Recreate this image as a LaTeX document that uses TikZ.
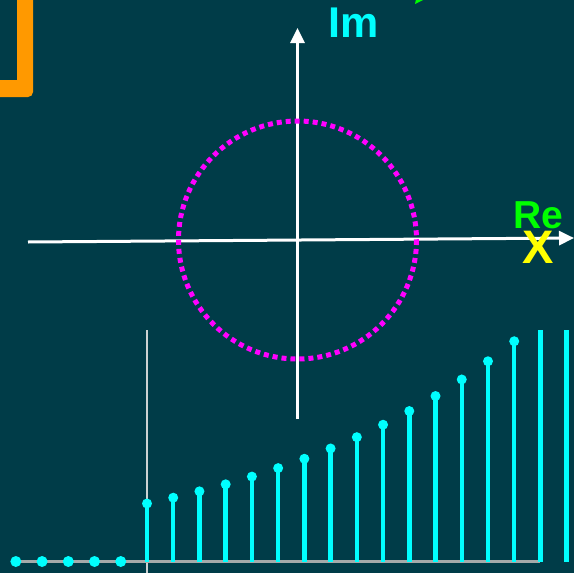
\documentclass[tikz,border=0pt]{standalone}
\usepackage{fontspec}
\setmainfont{Liberation Sans}
\usepackage{tikz}
\usetikzlibrary{arrows.meta, positioning, calc}
\definecolor{ZBack}{RGB}{0,60,72}
\definecolor{ZCyan}{RGB}{0,255,255}
\definecolor{ZMagenta}{RGB}{255,0,255}
\definecolor{ZGreen}{RGB}{0,255,0}
\definecolor{ZYellow}{RGB}{255,255,0}
\definecolor{ZOrange}{RGB}{255,153,0}
\definecolor{ZGray}{RGB}{165,170,170}
\definecolor{ZLight}{RGB}{205,210,210}

\begin{document}
\begin{tikzpicture}[x=1pt, y=-1pt,
          axis/.style={draw=white, line width=3pt,
                       -{Triangle[length=15pt, width=14pt]}},
          lbl/.style={font=\bfseries\fontsize{#1}{#1}\selectfont,
                      inner sep=0pt, anchor=base},
          stem/.style={draw=ZCyan, line width=4.5pt},
          zdot/.style={fill=ZCyan}
        ]
        % Frame and background
        \useasboundingbox (0,0) rectangle (574,573);
        \fill[ZBack] (0,0) rectangle (574,573);
        \clip (0,0) rectangle (574,573);

        % Cut-off shapes at the top edge
        \fill[ZOrange] (-10,80) -- (17,80) -- (17,-10) -- (33,-10)
              [rounded corners=5pt] -- (33,97) -- (-10,97) -- cycle;
        \fill[ZGreen] (415,4) -- (425,-1) -- (418,-10) -- cycle;

        % z-plane axes
        \coordinate (O)   at (297.5,240);
        \coordinate (reL) at (28,242);
        \coordinate (reR) at (574,238);
        \coordinate (imB) at (297.5,419);
        \coordinate (imT) at (297.5,28);
        \draw[axis] (reL) -- (reR);
        \draw[axis] (imB) -- (imT);

        % Unit circle
        \draw[ZMagenta, line width=5pt, dash pattern=on 5pt off 4pt]
              (O) circle (119);

        % Labels
        \node[lbl=43, text=ZCyan]   (im) at (354,37)  {Im};
        \node[lbl=39, text=ZGreen]  (re) at (538,228) {Re};
        \node[lbl=47, text=ZYellow] (xx) at (538.5,263) {X};

        % Sequence x[n]
        \coordinate (n0) at (147,561.5);
        \draw[ZLight, line width=1.5pt] (147,330) -- (147,573);
        \draw[ZGray, line width=3pt] (15.8,561.5) -- (540,561.5);
        \foreach \n in {1,...,5}
          \fill[zdot] ($(n0)+(-26.23*\n,0)$) circle (5.5);
        \begin{scope}
          \clip (0,330) rectangle (574,573);
          \foreach \n in {0,...,16} {
            \pgfmathsetmacro{\xx}{147+26.23*\n}
            \pgfmathsetmacro{\yy}{561.5-58*1.1^\n}
            \draw[stem] (\xx,561.5) -- (\xx,\yy);
            \fill[zdot] (\xx,\yy) circle (5);
          }
        \end{scope}
      \end{tikzpicture}
\end{document}
